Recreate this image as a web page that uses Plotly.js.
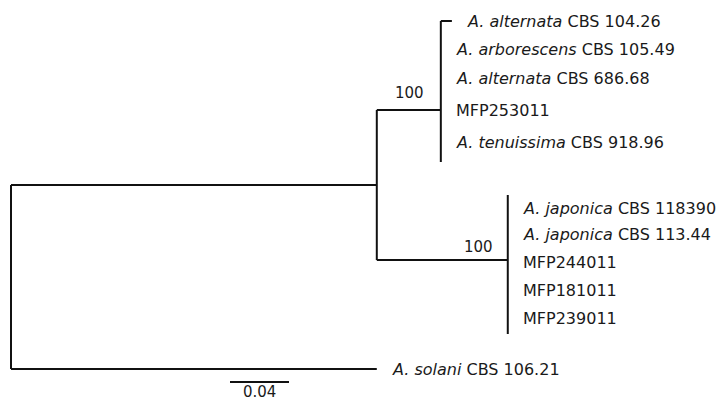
<!DOCTYPE html>
<html>
<head>
<meta charset="utf-8">
<script src="https://cdn.plot.ly/plotly-3.0.1.min.js"></script>
<style>
  html, body { margin: 0; padding: 0; background: #fff; }
  #tree { width: 721px; height: 403px; }
</style>
</head>
<body>
<div id="tree"></div>
<script>
// ---- Tree data -------------------------------------------------------
// Terminal taxa: italic species name (empty for isolates) and strain code
const species = ['A. alternata', 'A. arborescens', 'A. alternata', '', 'A. tenuissima',
                 'A. japonica', 'A. japonica', '', '', '',
                 'A. solani'];
const strains = ['CBS 104.26', 'CBS 105.49', 'CBS 686.68', 'MFP253011', 'CBS 918.96',
                 'CBS 118390', 'CBS 113.44', 'MFP244011', 'MFP181011', 'MFP239011',
                 'CBS 106.21'];
// Node each taxon hangs from, and the length of its terminal branch
const tipParent = ['alt', 'alt', 'alt', 'alt', 'alt',
                   'jap', 'jap', 'jap', 'jap', 'jap',
                   'root'];
const tipLength = [0.0075, 0, 0, 0, 0,
                   0, 0, 0, 0, 0,
                   0.248];

// Internal nodes, their parents and branch lengths
const nodeNames   = ['root', 'ingroup', 'alt', 'jap'];
const nodeParents = [null, 'root', 'ingroup', 'ingroup'];
const nodeLengths = [0, 0.248, 0.0434, 0.0888];

// Bootstrap support shown on the two clades
const supportNodes = ['alt', 'jap'];
const supportValues = [100, 100];

// Scale bar length (substitutions per site)
const scaleBar = 0.04;

// ---- Layout of the drawing (vertical positions in pixels) -------------
const tipRowY = [21, 49, 78, 110, 142, 208, 234, 262, 290, 318, 369];
const nodeY = { root: 185, ingroup: 185, alt: 110, jap: 260 };
const nodeSpan = {
  root: [185, 369],
  ingroup: [110, 260],
  alt: [21, 162],
  jap: [195, 334]
};
const supportShift = { alt: [-15, -17], jap: [-13, -13] };

const W = 721, H = 403;
const pxPerUnit = 1475;
const rootPx = 11;
const xr0 = -rootPx / pxPerUnit;
const xr1 = xr0 + W / pxPerUnit;

// cumulative depth of each internal node
const depth = {};
nodeNames.forEach((n, i) => {
  const p = nodeParents[i];
  depth[n] = (p ? depth[p] : 0) + nodeLengths[i];
});

const segX = [], segY = [];
function seg(x0, y0, x1, y1) {
  segX.push(x0, x1, null);
  segY.push(y0, y1, null);
}

// branches leading to internal nodes (horizontal) and node bars (vertical)
nodeNames.forEach((n, i) => {
  const p = nodeParents[i];
  if (p) seg(depth[p], nodeY[n], depth[n], nodeY[n]);
  const sp = nodeSpan[n];
  seg(depth[n], sp[0], depth[n], sp[1]);
});

// terminal branches and labels
const annotations = [];
strains.forEach((s, i) => {
  const x0 = depth[tipParent[i]];
  const x1 = x0 + tipLength[i];
  if (tipLength[i] > 0) seg(x0, tipRowY[i], x1, tipRowY[i]);
  const txt = species[i] ? '<i>' + species[i] + '</i> ' + s : s;
  annotations.push({
    x: x1, y: tipRowY[i], xref: 'x', yref: 'y',
    text: txt, showarrow: false,
    xanchor: 'left', yanchor: 'middle', xshift: 13,
    font: { family: 'DejaVu Sans', size: 16, color: '#1a1a1a' }
  });
});

// bootstrap values
supportNodes.forEach((n, i) => {
  annotations.push({
    x: depth[n], y: nodeY[n], xref: 'x', yref: 'y',
    text: String(supportValues[i]), showarrow: false,
    xanchor: 'right', yanchor: 'middle',
    xshift: supportShift[n][0], yshift: -supportShift[n][1],
    font: { family: 'DejaVu Sans', size: 15, color: '#1a1a1a' }
  });
});

// scale bar and its label just underneath
const sbX0 = (230 - rootPx) / pxPerUnit;
const sbY = 382;
annotations.push({
  x: sbX0 + scaleBar / 2, y: H, xref: 'x', yref: 'y',
  text: scaleBar.toFixed(2), showarrow: false,
  xanchor: 'center', yanchor: 'bottom', yshift: 0,
  font: { family: 'DejaVu Sans', size: 15, color: '#1a1a1a' }
});

const traces = [
  {
    x: segX, y: segY, type: 'scatter', mode: 'lines',
    line: { color: '#111', width: 2 },
    hoverinfo: 'skip', showlegend: false
  },
  {
    x: [sbX0, sbX0 + scaleBar], y: [sbY, sbY], type: 'scatter', mode: 'lines',
    line: { color: '#111', width: 2 },
    hoverinfo: 'skip', showlegend: false
  }
];

const layout = {
  width: W, height: H,
  margin: { l: 0, r: 0, t: 0, b: 0 },
  paper_bgcolor: '#fff', plot_bgcolor: '#fff',
  xaxis: { range: [xr0, xr1], visible: false, fixedrange: true },
  yaxis: { range: [H, 0], visible: false, fixedrange: true },
  annotations: annotations,
  showlegend: false
};

Plotly.newPlot('tree', traces, layout, { staticPlot: true, displayModeBar: false });
</script>
</body>
</html>
